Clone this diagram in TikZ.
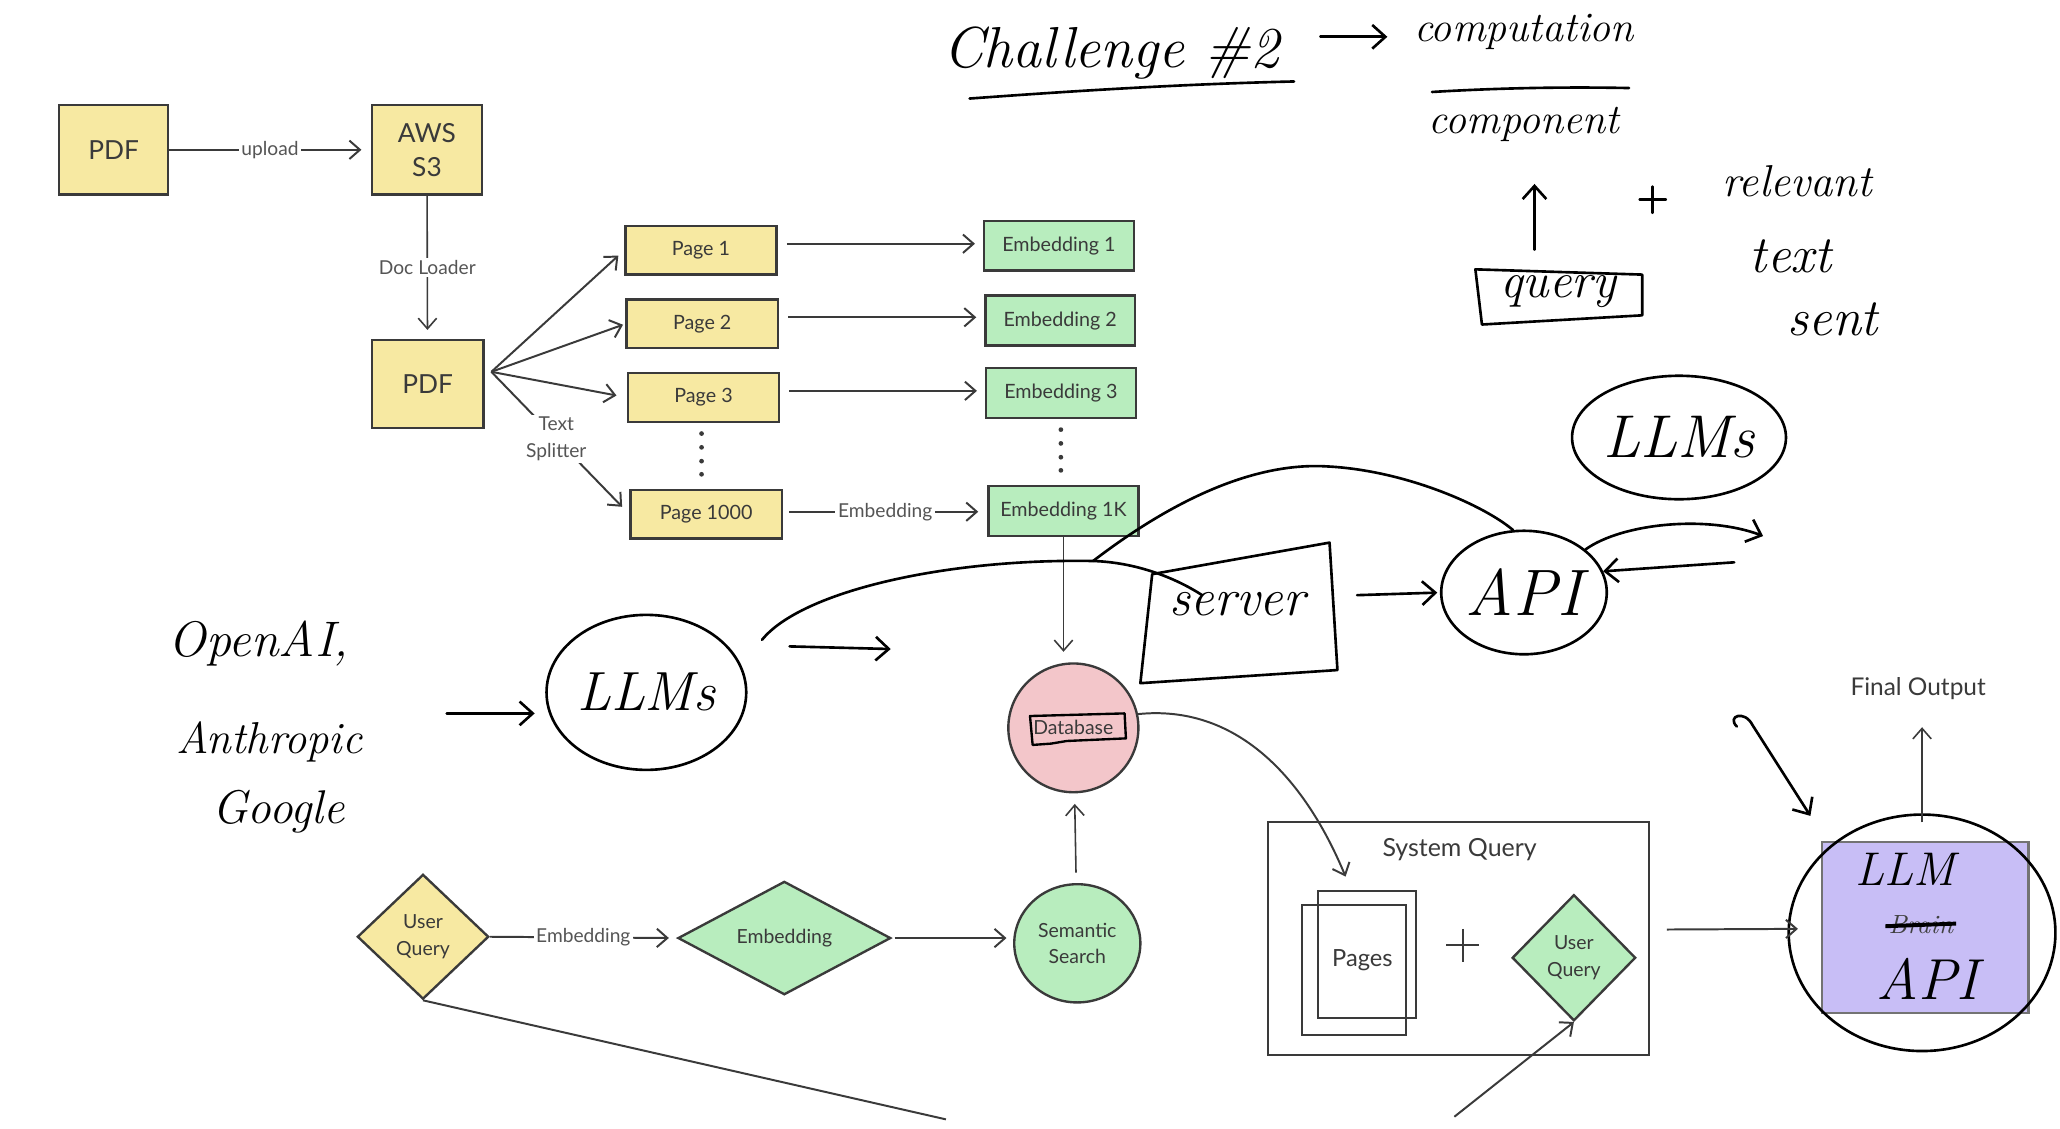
\documentclass[tikz,border=0pt]{standalone}
\usepackage{fontspec}
\newfontfamily\typed{Lato}
\usetikzlibrary{arrows.meta,shapes.geometric,calc}
\definecolor{yfill}{HTML}{F7E9A2}
\definecolor{gfill}{HTML}{B8EDBE}
\definecolor{pfill}{HTML}{F3C6CA}
\definecolor{vfill}{HTML}{C8BEF6}
\definecolor{ink}{HTML}{3A3A3A}
\definecolor{lbl}{HTML}{555555}
\tikzset{
  box/.style={draw=ink, line width=0.9pt, inner sep=0pt, text=ink, align=center,
    font=\typed\fontsize{10}{13}\selectfont},
  ybox/.style={box, fill=yfill},
  pgbox/.style={box, fill=yfill, minimum width=57.5pt, minimum height=18.5pt,
    font=\typed\fontsize{7.5}{9}\selectfont},
  ebox/.style={box, fill=gfill, minimum width=57pt, minimum height=19pt,
    font=\typed\fontsize{7.5}{9}\selectfont},
  shp/.style={draw=ink, line width=0.9pt, inner sep=0pt, text=ink, align=center,
    font=\typed\fontsize{7.4}{10}\selectfont},
  conn/.style={draw=ink, line width=0.75pt},
  arr/.style={conn, -{Straight Barb[length=4pt,width=7pt]}},
  lab/.style={fill=white, inner sep=1pt, text=lbl, align=center,
    font=\typed\fontsize{7.3}{10}\selectfont},
  hand/.style={draw=black, line width=1pt, line cap=round, line join=round},
  harr/.style={hand, -{Straight Barb[length=5pt,width=9pt]}},
  htxt/.style={text=black, inner sep=0pt},
  dotmark/.style={fill=ink}
}
\begin{document}
\begin{tikzpicture}[x=0.5pt,y=-0.5pt]
\useasboundingbox (0,0) rectangle (1568,859);
\fill[white] (0,0) rectangle (1568,859);

% ---------- typed pipeline ----------
\node[ybox, minimum width=41.5pt, minimum height=34pt] (pdfA) at (86.5,114) {PDF};
\node[ybox, minimum width=42pt, minimum height=34pt] (aws) at (325,114) {AWS\\S3};
\node[ybox, minimum width=42.5pt, minimum height=33.5pt] (pdfB) at (325.5,292.5) {PDF};

\node[pgbox] (p1) at (533.5,190.5) {Page 1};
\node[pgbox] (p2) at (534.5,246.5) {Page 2};
\node[pgbox] (p3) at (535.5,302.5) {Page 3};
\node[pgbox] (p1000) at (537.5,391.5) {Page 1000};

\node[ebox] (e1) at (806,187) {Embedding 1};
\node[ebox] (e2) at (807,244) {Embedding 2};
\node[ebox] (e3) at (807.5,299) {Embedding 3};
\node[ebox] (e1k) at (809.5,389) {Embedding 1K};

\foreach \yy in {330,340.5,351,361} \fill[dotmark] (534,\yy) circle (0.9pt);
\foreach \yy in {327,337.5,348,358} \fill[dotmark] (807.5,\yy) circle (0.9pt);

\draw[arr, shorten >=3.5pt] (pdfA) -- node[lab]{upload} (aws);
\draw[arr, line width=0.6pt, shorten >=3.5pt] (aws) -- node[lab]{Doc Loader} (pdfB);

\coordinate (split) at (374,283);
\draw[arr, shorten >=3pt] (split) -- (p1.west);
\draw[arr, shorten >=1pt] (split) -- (p2.west);
\draw[arr, shorten >=4pt] (split) -- (p3.west);
\draw[arr, shorten >=4pt] (split) -- node[lab, pos=0.47]{Text\\Splitter} (p1000.west);

\draw[arr, shorten <=3.5pt, shorten >=3pt] ([yshift=2.5pt]p1.east) -- ([yshift=2.5pt]p1.east -| e1.west);
\draw[arr, shorten <=3.5pt, shorten >=3pt] ([yshift=2.5pt]p2.east) -- ([yshift=2.5pt]p2.east -| e2.west);
\draw[arr, shorten <=3.5pt, shorten >=3pt] ([yshift=2.5pt]p3.east) -- ([yshift=2.5pt]p3.east -| e3.west);
\draw[arr, shorten <=2.5pt, shorten >=3.5pt] ([yshift=1pt]p1000.east) -- node[lab]{Embedding} ([yshift=1pt]p1000.east -| e1k.west);

\node[shp, ellipse, fill=pfill, minimum width=49.5pt, minimum height=49pt] (db) at (817,554) {Database};
\node[shp, ellipse, fill=gfill, minimum width=48pt, minimum height=45pt] (ss) at (820,718) {Semantic\\Search};
\draw[arr, line width=0.6pt, shorten >=4pt] (e1k.south) -- (e1k.south |- db.north);
\draw[arr, line width=0.6pt, shorten <=4pt, shorten >=4pt] (ss) -- (db);

\node[shp, diamond, fill=yfill, minimum width=50pt, minimum height=47.5pt] (uq) at (322,713) {User\\Query};
\node[shp, diamond, fill=gfill, minimum width=81pt, minimum height=34pt] (embd) at (597,714) {Embedding};
\draw[arr, shorten >=3pt] (uq.east) -- node[lab]{Embedding} (embd.west);
\draw[arr, shorten <=1pt, shorten >=2.5pt] (embd.east) -- (embd.east -| ss.west);
\coordinate (uqTail) at (720,852);
\draw[conn] (uq.south) -- (uqTail);

% System query
\node[draw=ink, line width=0.8pt, minimum width=145pt, minimum height=88.5pt, inner sep=0pt] (sq) at (1110,714.5) {};
\node[text=ink, font=\typed\fontsize{9.5}{11}\selectfont] (sqlab) at (1111,647) {System Query};
\node[draw=ink, line width=0.8pt, minimum width=37.5pt, minimum height=48.5pt, inner sep=0pt] (pgB) at (1040.5,726.5) {};
\node[draw=ink, line width=0.8pt, minimum width=39.5pt, minimum height=49.5pt, inner sep=0pt] (pgF) at (1030.5,738.5) {};
\node[text=ink, font=\typed\fontsize{9}{11}\selectfont] (pgtxt) at (1037,731) {Pages};
\draw[ink, line width=0.7pt] (1101,719) -- (1126,719) (1113.5,707) -- (1113.5,732);
\node[shp, diamond, fill=gfill, minimum width=47pt, minimum height=48pt] (uq2) at (1198,729) {User\\Query};
\coordinate (uq2In) at (1107,850);
\draw[arr] (uq2In) -- (uq2.south);

\draw[arr] (db.12) .. controls (940,536) and (992,590) .. ($(pgB.north west)+(22,-10)$);

% LLM API
\node[draw=black!55, line width=0.8pt, fill=vfill, minimum width=78.5pt, minimum height=65pt, inner sep=0pt] (llmb) at (1465.5,706) {};
\node[hand, ellipse, minimum width=101.5pt, minimum height=90pt, inner sep=0pt] (llmc) at (1463,710) {};
\node[htxt, font=\itshape\fontsize{18}{18}\selectfont] (tLLM) at (1450,662) {LLM};
\node[htxt, text=black!75, font=\itshape\fontsize{10}{10}\selectfont] (tBrain) at (1462,704) {Brain};
\draw[line width=1.5pt] ([xshift=-1pt,yshift=-0.5pt]tBrain.west) -- ([xshift=1pt,yshift=0.5pt]tBrain.east);
\node[htxt, font=\itshape\fontsize{22}{22}\selectfont] (tAPI) at (1467,745) {API};
\draw[arr] ([xshift=6.5pt,yshift=3.5pt]sq.east) -- ([xshift=4pt,yshift=1.5pt]llmc.west);
\node[text=ink, font=\typed\fontsize{9.3}{11}\selectfont] (fo) at (1460,524) {Final Output};
\draw[arr, line width=0.6pt, shorten >=7pt] ([yshift=-3.5pt]llmc.north) -- (llmc.north |- fo.south);
\coordinate (hookS) at (1322,553);
\coordinate (hookE) at (1378,621);
\draw[harr] (hookS) .. controls (1314,545) and (1328,540) .. (1334,552) -- (hookE);

% ---------- handwriting ----------
\node[htxt, font=\itshape\fontsize{22}{22}\selectfont] (chal) at (846,40) {Challenge \#2};
\draw[hand] (738,75) .. controls (820,69) and (900,64) .. (985,62);
\coordinate (a1s) at (1005,28); \coordinate (a1e) at (1056,28);
\draw[harr] (a1s) -- (a1e);
\node[htxt, font=\itshape\fontsize{16}{16}\selectfont] (comp) at (1160,24) {computation};
\draw[hand] (1090,70) .. controls (1140,67) and (1190,66) .. (1240,67);
\node[htxt, font=\itshape\fontsize{16}{16}\selectfont] (compo) at (1160,95) {component};
\node[htxt, font=\itshape\fontsize{19}{19}\selectfont] (qtxt) at (1186,222) {query};
\draw[hand] (1123,205) -- (1250,209) -- (1250,240) -- (1128,247) -- cycle;
\coordinate (qup) at (1168,190); \coordinate (qupE) at (1168,140);
\draw[harr] (qup) -- (qupE);
\draw[hand] (1248,152) -- (1268,152) (1258,142) -- (1258,162);
\node[htxt, font=\itshape\fontsize{17}{17}\selectfont] (rel) at (1368,138) {relevant};
\node[htxt, font=\itshape\fontsize{20}{20}\selectfont] (txt) at (1363,195) {text};
\node[htxt, font=\itshape\fontsize{20}{20}\selectfont] (sent) at (1395,243) {sent};

\node[hand, ellipse, minimum width=73pt, minimum height=47pt, inner sep=0pt,
  font=\itshape\fontsize{23}{23}\selectfont] (llmsT) at (1278,333) {LLMs};
\node[hand, ellipse, minimum width=63pt, minimum height=47pt, inner sep=0pt,
  font=\itshape\fontsize{25}{25}\selectfont] (api) at (1160,451) {API};
\draw[hand] (877,437) -- (1012,413) -- (1018,510) -- (868,520) -- cycle;
\node[htxt, font=\itshape\fontsize{20}{20}\selectfont] (srv) at (942,460) {server};
\coordinate (srvOut) at (1033,453);
\draw[harr, shorten >=1pt] (srvOut) -- (api.west);
\coordinate (apiIn) at (1320,428);
\draw[harr] (apiIn) -- (api.15);
\coordinate (loopE) at (1342,408);
\draw[harr] (api.35) .. controls (1235,398) and (1300,392) .. (loopE);

\node[hand, ellipse, minimum width=76pt, minimum height=59pt, inner sep=0pt,
  font=\itshape\fontsize{21}{21}\selectfont] (llmsL) at (492,527) {LLMs};
\coordinate (c1s) at (580,487);
\coordinate (c1j) at (832,427);
\coordinate (c1e) at (915,453);
\draw[hand] (c1s) .. controls (610,450) and (720,425) .. (c1j) .. controls (865,428) and (895,440) .. (c1e);
\draw[hand] (c1j) .. controls (900,375) and (960,352) .. (1010,355) .. controls (1070,358) and (1130,385) .. (api.100);
\coordinate (a2s) at (601,492); \coordinate (a2e) at (678,494);
\draw[harr] (a2s) -- (a2e);

\node[htxt, font=\itshape\fontsize{19}{19}\selectfont] (oai) at (197,490) {OpenAI,};
\node[htxt, font=\itshape\fontsize{17}{17}\selectfont] (anth) at (205,565) {Anthropic};
\node[htxt, font=\itshape\fontsize{18}{18}\selectfont] (goog) at (212,618) {Google};
\coordinate (orgA) at (340,543);
\draw[harr, shorten >=4pt] (orgA) -- (llmsL.west |- orgA);

% handwritten box around Database
\draw[hand, line width=0.9pt] (784,545) -- (856,543) -- (857,562) -- (812,564) -- (800,566) -- (786,567) -- cycle;
\end{tikzpicture}
\end{document}
